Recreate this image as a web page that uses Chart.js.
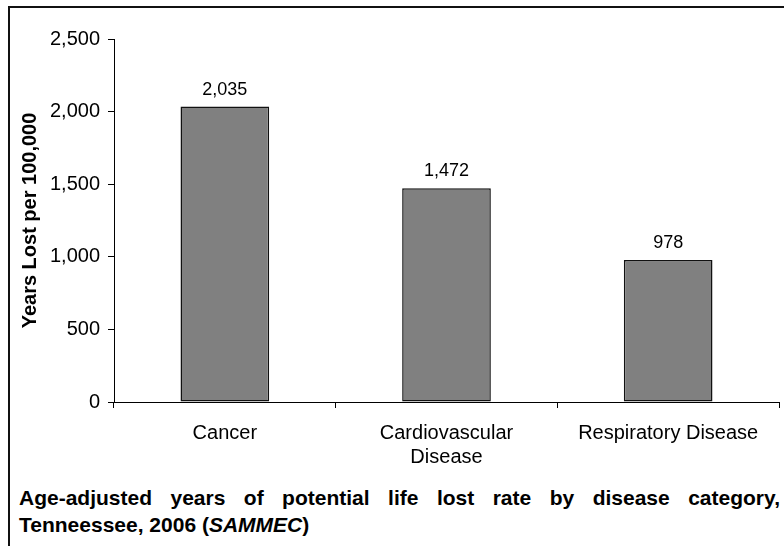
<!DOCTYPE html>
<html>
<head>
<meta charset="utf-8">
<script src="https://cdn.jsdelivr.net/npm/chart.js@4/dist/chart.umd.min.js"></script>
<style>
  html, body { margin: 0; padding: 0; background: #fff; }
  #wrap { position: relative; width: 784px; height: 546px; overflow: hidden; }
  #frame { position: absolute; left: 8px; top: 6px; width: 800px; height: 560px;
           border-top: 2px solid #111; border-left: 2px solid #111; }
  #box { position: absolute; left: 0; top: 0; width: 784px; height: 470px; }
  #caption { position: absolute; left: 19px; top: 484px; width: 761px;
             font: bold 21px "Liberation Sans", Arial, sans-serif; line-height: 27px;
             color: #000; text-align: justify; text-align-last: left; }
</style>
</head>
<body>
<div id="wrap">
  <div id="frame"></div>
  <div id="box"><canvas id="myChart"></canvas></div>
  <div id="caption">Age-adjusted years of potential life lost rate by disease category, Tenneessee, 2006 (<i>SAMMEC</i>)</div>
</div>
<script>
// chart data
var categories = ['Cancer', ['Cardiovascular', 'Disease'], 'Respiratory Disease'];
var values = [2035, 1472, 978];
var yTicks = [0, 500, 1000, 1500, 2000, 2500];

var fontName = '"Liberation Sans", Arial, sans-serif';

// draws the number above each bar
var valueLabels = {
    id: 'valueLabels',
    afterDatasetsDraw: function(chart) {
        var ctx = chart.ctx;
        var meta = chart.getDatasetMeta(0);
        ctx.save();
        ctx.font = '18px ' + fontName;
        ctx.fillStyle = '#000';
        ctx.textAlign = 'center';
        ctx.textBaseline = 'alphabetic';
        meta.data.forEach(function(bar, i) {
            ctx.fillText(values[i].toLocaleString('en-US'), bar.x, bar.y - 12);
        });
        ctx.restore();
    }
};

var ctx = document.getElementById('myChart').getContext('2d');
var myChart = new Chart(ctx, {
    type: 'bar',
    data: {
        labels: categories,
        datasets: [{
            data: values,
            backgroundColor: '#808080',
            borderColor: '#111',
            borderWidth: 1.5,
            borderSkipped: false,
            barPercentage: 0.4,
            categoryPercentage: 1
        }]
    },
    options: {
        responsive: true,
        maintainAspectRatio: false,
        animation: false,
        layout: { padding: { left: 18, top: 39, right: 5, bottom: 0 } },
        plugins: {
            legend: { display: false },
            tooltip: { enabled: false }
        },
        scales: {
            x: {
                afterFit: function(scale) { scale.height = 68; },
                grid: { display: true, drawOnChartArea: false, drawTicks: true, tickLength: 6, color: '#000', offset: true },
                border: { display: true, color: '#000', width: 1 },
                ticks: { color: '#000', font: { family: fontName, size: 20, lineHeight: 1.2 }, padding: 13, maxRotation: 0, autoSkip: false }
            },
            y: {
                min: 0,
                max: 2500,
                afterFit: function(scale) { scale.width = 96; },
                afterBuildTicks: function(scale) {
                    scale.ticks = yTicks.map(function(v) { return { value: v }; });
                },
                grid: { display: true, drawOnChartArea: false, drawTicks: true, tickLength: 6, color: '#000' },
                border: { display: true, color: '#000', width: 1 },
                ticks: {
                    color: '#000',
                    font: { family: fontName, size: 20 },
                    padding: 8,
                    callback: function(v) { return Number(v).toLocaleString('en-US'); }
                },
                title: {
                    display: true,
                    text: 'Years Lost per 100,000',
                    color: '#000',
                    font: { family: fontName, size: 20, weight: 'bold', lineHeight: 1.2 },
                    padding: 0
                }
            }
        }
    },
    plugins: [valueLabels]
});
</script>
</body>
</html>
